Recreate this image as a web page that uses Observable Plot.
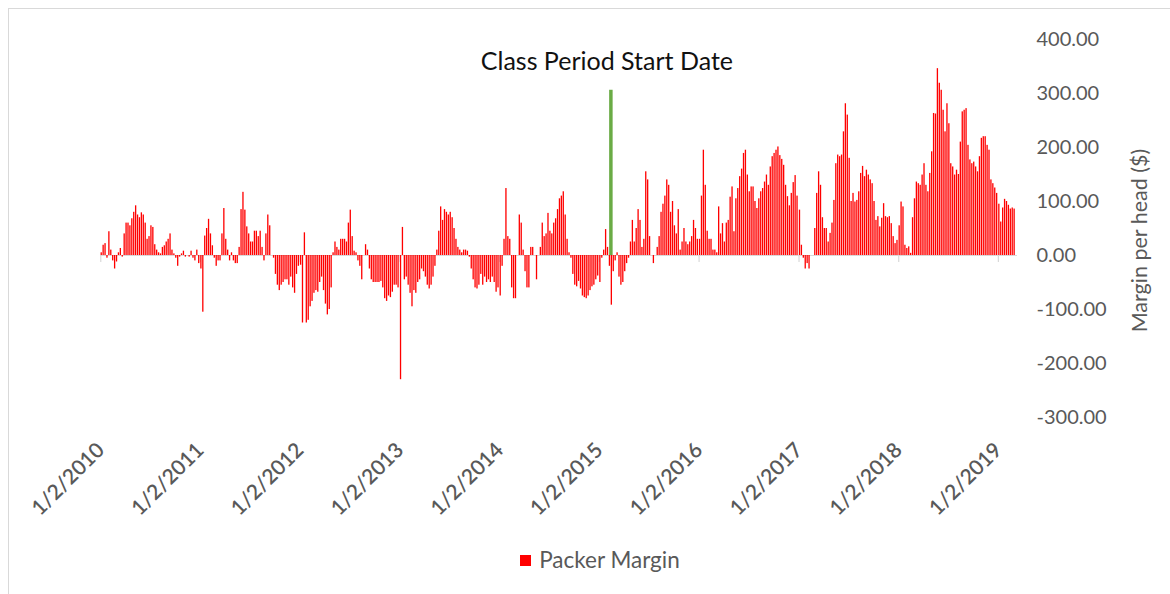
<!DOCTYPE html>
<html>
<head>
<meta charset="utf-8">
<script src="https://cdn.jsdelivr.net/npm/d3@7"></script>
<script src="https://cdn.jsdelivr.net/npm/@observablehq/plot@0.6"></script>
<style>
  body { margin: 0; background: #fff; }
  #wrap { position: relative; width: 1170px; height: 594px; overflow: hidden; font-family: Lato, "Open Sans", sans-serif; }
  #frame { position: absolute; left: 8px; top: 8px; width: 1170px; height: 1000px; border: 1px solid #d9d9d9; box-sizing: border-box; }
  #chart { position: absolute; left: 0; top: 0; }
  #legend { position: absolute; left: 0; top: 547px; width: 1170px; text-align: center; font-size: 22.5px; color: #595959; line-height: 26px; padding-left: 30px; box-sizing: border-box; }
  #legend .sw { display: inline-block; width: 11px; height: 11px; background: #ff0000; margin-right: 8px; vertical-align: 2px; }
</style>
</head>
<body>
<div id="wrap">
  <div id="frame"></div>
  <div id="chart"></div>
  <div id="legend"><span class="sw"></span>Packer Margin</div>
</div>
<script>
// Weekly packer margin per head ($), one array per year, weeks starting Jan 2
const margin2010 = [5, 19, 22, -5, 44, 10, -10, -25, -12, 5, 13, -3, 40, 60, 60, 55, 68, 80, 92, 75, 70, 79, 75, 60, 30, 35, 55, 52, 20, 10, 5, 3, 15, 18, 25, 30, 40, 10, 3, -5, -20, -3, 3, 8, -3, 0, -3, 8, -5, -10, 10, -15];
const margin2011 = [-25, -105, 36, 50, 67, 40, 18, -5, -20, -10, -10, 40, 87, 30, 10, -10, 5, -10, -15, -15, 15, 85, 117, 84, 53, 40, 25, 25, 45, 45, 35, 45, 15, -10, 40, 75, 55, 0, -5, -35, -55, -65, -55, -50, -45, -45, -55, -40, -60, -70, -35, -20];
const margin2012 = [-18, -125, 42, -125, -120, -95, -85, -70, -65, -68, -50, -40, -65, -90, -110, -100, -60, 5, 25, 15, 10, 30, 30, 30, 25, 60, 84, 35, 8, 5, -10, -20, -45, 0, 20, 10, -25, -45, -50, -50, -50, -50, -48, -60, -80, -85, -75, -78, -68, -55, -55, -60];
const margin2013 = [-230, 52, -45, -40, -55, -70, -95, -65, -70, -50, -45, -25, -30, -40, -55, -62, -55, -40, -20, 10, 45, 90, 65, 85, 80, 75, 80, 70, 50, 30, 15, 10, 5, 10, 10, 8, -3, -25, -45, -60, -62, -55, -35, -55, -40, -50, -45, -50, -40, -50, -68, -60];
const margin2014 = [-75, -20, 30, 124, 35, 30, -60, -80, -80, 0, 75, 60, 10, -30, -60, -60, 15, 15, 0, -45, 0, 15, 60, 35, 40, 78, 45, 40, 60, 68, 85, 105, 110, 118, 75, 30, 5, -5, -35, -55, -58, -48, -62, -75, -78, -80, -75, -65, -58, -55, -45, -38];
const margin2015 = [-50, -5, 10, 48, 15, -20, -92, -30, -10, 5, -40, -55, -50, -30, -15, -5, 25, 65, 25, 50, 85, 65, 15, 30, 155, 140, 35, 0, -15, 0, 15, 35, 80, 95, 110, 140, 130, 80, 100, 55, 40, 85, 10, 25, 50, 25, 20, 25, 35, 65, 50, 30];
const margin2016 = [30, 110, 195, 130, 45, 30, 30, 10, 10, 5, 90, 40, 59, 25, 60, 65, 108, 127, 44, 105, 124, 146, 160, 189, 195, 149, 118, 127, 127, 100, 87, 105, 118, 124, 136, 149, 130, 164, 183, 189, 195, 201, 185, 178, 167, 130, 109, 92, 115, 135, 148, 110];
const margin2017 = [84, 19, -5, -25, -15, -25, 0, 0, 50, 115, 155, 130, 70, 50, 50, 25, 41, 60, 102, 170, 186, 183, 186, 229, 281, 260, 180, 100, 115, 99, 102, 118, 152, 165, 146, 158, 149, 140, 133, 100, 65, 72, 53, 69, 96, 72, 70, 72, 59, 35, 22, 28];
const margin2018 = [55, 99, 90, 19, 13, 16, 4, 70, 105, 136, 133, 130, 149, 170, 130, 118, 152, 192, 263, 262, 346, 319, 306, 269, 229, 281, 244, 170, 164, 149, 158, 150, 210, 266, 269, 272, 204, 177, 170, 173, 164, 155, 183, 217, 220, 220, 204, 195, 140, 133, 125, 115];
const margin2019 = [95, 62, 88, 104, 100, 93, 86, 88, 86];

const years = [2010, 2011, 2012, 2013, 2014, 2015, 2016, 2017, 2018, 2019];
const seriesByYear = [margin2010, margin2011, margin2012, margin2013, margin2014, margin2015, margin2016, margin2017, margin2018, margin2019];

const yTicks = [-300, -200, -100, 0, 100, 200, 300, 400];
const xTickYears = [2010, 2011, 2012, 2013, 2014, 2015, 2016, 2017, 2018, 2019];
const xDomain = [new Date(Date.UTC(2010, 0, 1)), new Date(Date.UTC(2019, 2, 13))];

const classStart = new Date(Date.UTC(2015, 1, 13));
const classLineTop = 306;
const classLabel = "Class Period Start Date";
const seriesName = "Packer Margin";
const yLabel = "Margin per head ($)";

const data = years.flatMap((yr, k) =>
  seriesByYear[k].map((v, i) => ({ date: new Date(Date.UTC(yr, 0, 2 + 7 * i)), value: v }))
);
const xTicks = xTickYears.map(y => new Date(Date.UTC(y, 0, 2)));

const chart = Plot.plot({
  width: 1170,
  height: 530,
  marginTop: 39,
  marginBottom: 113,
  marginLeft: 100,
  marginRight: 153,
  style: { fontFamily: "Lato, 'Open Sans', sans-serif", background: "transparent", overflow: "visible" },
  x: { type: "utc", domain: xDomain },
  y: { domain: [-300, 400] },
  marks: [
    Plot.ruleY([0], { stroke: "#d9d9d9", strokeWidth: 1.2 }),
    Plot.ruleX(xTicks, { x: d => d, y1: 0, y2: -13, stroke: "#d9d9d9", strokeWidth: 1.2 }),
    Plot.rect(data, {
      x1: "date",
      x2: d => d3.utcDay.offset(d.date, 7),
      y1: 0,
      y2: "value",
      fill: "#ff0000",
      insetLeft: 0.3,
      insetRight: 0.3
    }),
    Plot.ruleX([classStart], { y1: 0, y2: classLineTop, stroke: "#6aab45", strokeWidth: 3.5 }),
    Plot.text([{ date: classStart, label: classLabel }], {
      x: "date", text: "label", frameAnchor: "top", dy: 22, dx: -4,
      fontSize: 25, fill: "#111", lineAnchor: "middle"
    }),
    Plot.axisY({
      anchor: "right", ticks: yTicks, tickFormat: d => d.toFixed(2),
      tickSize: 0, tickPadding: 19, fontSize: 20, fill: "#595959", label: null
    }),
    Plot.text([yLabel], {
      text: d => d, frameAnchor: "right", rotate: -90, dx: 123, dy: 12,
      fontSize: 21.5, fill: "#595959", textAnchor: "middle"
    }),
    Plot.axisX({
      anchor: "bottom", ticks: xTicks, tickFormat: d => `1/2/${d.getUTCFullYear()}`,
      tickSize: 0, tickPadding: 29, tickRotate: -45, fontSize: 21, fontWeight: 600,
      fill: "#595959", label: null
    })
  ]
});
document.getElementById("chart").appendChild(chart);
</script>
</body>
</html>
